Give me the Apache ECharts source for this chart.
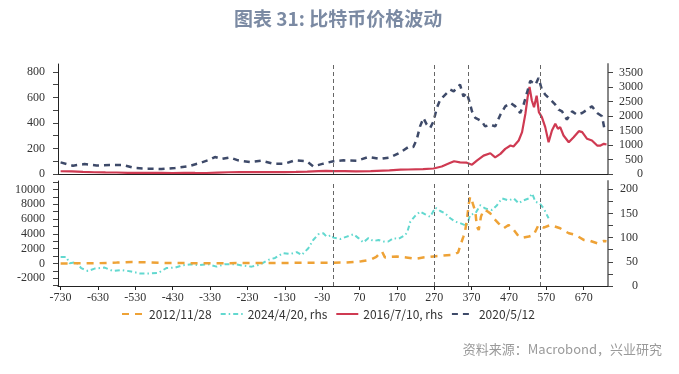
<!DOCTYPE html>
<html><head><meta charset="utf-8">
<script src="https://cdn.jsdelivr.net/npm/echarts@6/dist/echarts.min.js"></script>
<style>html,body{margin:0;padding:0;background:#fff}#c{width:679px;height:374px}</style>
</head><body><div id="c"></div>
<script>
// ---- data ----
const navyDays = [-730,-697,-666,-634,-599,-563,-532,-496,-460,-424,-389,-357,-331,-317,-299,-277,-255,-223,-192,-161,-130,-103,-71,-54,-27,0,27,63,94,125,152,179,201,214,223,232,241,250,259,268,277,286,295,304,313,322,331,339,348,357,364,371,380,389,397,406,420,433,447,460,474,487,500,509,518,527,541,549,558,567,581,594,603,612,625,639,652,666,679,692,706,719,725,731];
const navyVals = [91,65,78,67,70,70,47,42,39,47,60,86,112,133,118,130,107,94,104,81,81,107,99,60,81,100,107,104,133,118,130,169,212,212,269,373,439,387,361,413,518,583,609,635,661,648,675,700,609,635,569,491,439,426,413,373,387,373,465,530,557,530,478,543,635,730,700,753,661,622,583,543,504,491,426,491,465,478,504,530,478,452,361,340];

const redDays = [-730,-700,-670,-640,-610,-580,-550,-520,-490,-460,-430,-400,-370,-340,-310,-280,-250,-220,-190,-160,-130,-100,-70,-40,-20,0,30,60,100,150,180,200,240,268,290,310,323,339,357,371,384,402,420,433,447,460,474,482,496,505,514,520,525,531,537,544,550,558,567,576,585,594,601,607,616,630,643,657,666,679,692,706,715,724,731];
const redVals = [95,88,70,60,55,52,40,36,37,36,35,40,36,35,50,60,65,63,62,65,68,70,80,100,110,100,98,92,100,125,150,155,165,190,260,370,440,400,390,322,461,634,714,575,693,866,981,946,1154,1441,2079,2654,3001,2540,2300,2700,2134,1961,1615,1095,1500,1732,1559,1615,1327,1095,1268,1476,1441,1213,1154,981,981,1040,1015];

const orangeDays = [-730,-680,-630,-580,-540,-500,-450,-400,-350,-300,-250,-200,-150,-100,-50,0,30,54,75,98,115,130,138,150,170,195,219,240,268,295,322,334,339,344,348,353,358,362,366,370,373,377,380,384,389,395,402,411,420,429,442,456,469,483,496,509,523,536,549,563,581,607,630,648,670,688,706,724,731];
const orangeVals = [2,5,30,120,200,140,60,40,20,30,40,40,50,80,90,100,110,175,280,485,900,1618,809,900,944,800,620,800,944,1078,1159,1500,2292,2062,3640,4500,6106,7899,9032,8700,8128,7500,7010,4988,4529,6336,7225,7090,6780,6106,5432,4758,5203,4529,3640,3505,3640,3855,5203,4853,5203,4758,4084,3855,3181,3046,2736,3046,3000];

const cyanDays = [-730,-715,-706,-688,-675,-657,-639,-612,-590,-567,-541,-518,-496,-469,-447,-424,-402,-380,-362,-335,-313,-290,-264,-241,-219,-197,-174,-156,-134,-116,-98,-85,-67,-54,-40,-27,-18,-4,0,18,36,54,67,80,94,107,121,134,147,161,174,192,198,206,219,232,246,259,273,286,299,313,326,339,357,366,380,393,407,425,438,451,469,483,496,509,523,532,541,552,563,576];
const cyanVals = [60,60,47,49,37,31,36,38,31,33,30,26,26,27,37,38,43,45,43,45,40,45,45,42,40,44,54,58,68,66,70,64,78,95,107,109,102,105,100,97,102,107,99,90,99,93,95,92,92,99,97,105,112,133,145,154,148,143,162,155,150,140,133,130,124,147,150,167,160,157,167,181,177,181,171,177,181,191,174,171,160,140];

const markerDays = [0, 270, 361, 553];
const xTickLabels = [-730,-630,-530,-430,-330,-230,-130,-30,70,170,270,370,470,570,670];
const topLeftLabels = [0,200,400,600,800];
const topLeftTicks = [0,100,200,300,400,500,600,700,800];
const topRightLabels = [0,500,1000,1500,2000,2500,3000,3500];
const botLeftLabels = [-2000,0,2000,4000,6000,8000,10000];
const botLeftTicks = [-3000,-2000,-1000,0,1000,2000,3000,4000,5000,6000,7000,8000,9000,10000,11000];
const botRightLabels = [0,50,100,150,200];
const botRightTicks = [0,25,50,75,100,125,150,175,200];

const names = ['2012/11/28', '2024/4/20, rhs', '2016/7/10, rhs', '2020/5/12'];
const colors = {orange:'#eea236', cyan:'#62d8cf', red:'#cf3a52', navy:'#3e4a69'};

const pair = (xs, ys) => xs.map((x, i) => [x, ys[i]]);
const plain = v => String(v);
const serifLbl = {fontFamily:'Liberation Serif', fontSize:12, color:'#333', formatter:plain};

function xAx(grid, showLabels) {
  return {
    type:'value', gridIndex:grid, min:-737, max:735,
    axisLine:{onZero:false, lineStyle:{color:'#222', width:1}},
    axisTick: showLabels ? {show:true, customValues:xTickLabels, length:4, lineStyle:{color:'#222'}} : {show:false},
    axisLabel: showLabels ? Object.assign({show:true, customValues:xTickLabels, margin:6}, serifLbl) : {show:false},
    splitLine:{show:false}
  };
}
function yAx(grid, pos, min, max, labels, ticks, margin, lineColor, lineWidth) {
  return {
    type:'value', gridIndex:grid, position:pos, min:min, max:max,
    axisLine:{show:true, onZero:false, lineStyle:{color:lineColor, width:lineWidth}},
    axisTick:{show:true, customValues:ticks, length:5, lineStyle:{color:'#444'}},
    axisLabel:Object.assign({customValues:labels, margin:margin, align:'right'}, serifLbl),
    splitLine:{show:false}
  };
}
const mk = {
  silent:true, symbol:'none', label:{show:false},
  lineStyle:{color:'#666', type:[4,3], width:1},
  data: markerDays.map(d => ({xAxis:d}))
};

const chart = echarts.init(document.getElementById('c'));
chart.setOption({
  animation:false,
  title:{text:'图表 31: 比特币价格波动', left:229, top:4,
    textStyle:{fontFamily:'Noto Sans CJK SC', fontSize:19, fontWeight:'bold', color:'#7b8aa3'}},
  graphic:[{type:'text', right:17, top:343,
    style:{text:'资料来源：Macrobond，兴业研究', fontFamily:'Noto Sans CJK SC', fontSize:13, fill:'#9a9a9a'}}],
  legend:{data:names, top:303, left:116, itemWidth:22, itemHeight:10, itemGap:8,
    itemStyle:{opacity:0},
    textStyle:{fontFamily:'Noto Sans CJK SC', fontSize:12, color:'#333'}},
  grid:[{left:58, right:71, top:64, height:110}, {left:58, right:71, top:181, height:105}],
  xAxis:[xAx(0,false), xAx(1,true)],
  yAxis:[
    yAx(0,'left',0,862,topLeftLabels,topLeftTicks,13,'#222',1),
    yAx(0,'right',0,3790,topRightLabels,topRightLabels,35,'#888',2),
    yAx(1,'left',-3060,11160,botLeftLabels,botLeftTicks,13,'#222',1),
    yAx(1,'right',0,217,botRightLabels,botRightTicks,30,'#888',2)
  ],
  series:[
    {name:names[0], type:'line', xAxisIndex:1, yAxisIndex:2, symbol:'none', data:pair(orangeDays, orangeVals),
      lineStyle:{color:colors.orange, width:2.5, type:[7,6]}, itemStyle:{color:colors.orange}, markLine:mk, z:3},
    {name:names[1], type:'line', xAxisIndex:1, yAxisIndex:3, symbol:'none', data:pair(cyanDays, cyanVals),
      lineStyle:{color:colors.cyan, width:2, type:[5,3,1.5,3]}, itemStyle:{color:colors.cyan}, z:2},
    {name:names[2], type:'line', xAxisIndex:0, yAxisIndex:1, symbol:'none', data:pair(redDays, redVals),
      lineStyle:{color:colors.red, width:2.2}, itemStyle:{color:colors.red}, z:2},
    {name:names[3], type:'line', xAxisIndex:0, yAxisIndex:0, symbol:'none', data:pair(navyDays, navyVals),
      lineStyle:{color:colors.navy, width:2.5, type:[6,5]}, itemStyle:{color:colors.navy}, markLine:mk, z:3}
  ]
});
</script></body></html>
